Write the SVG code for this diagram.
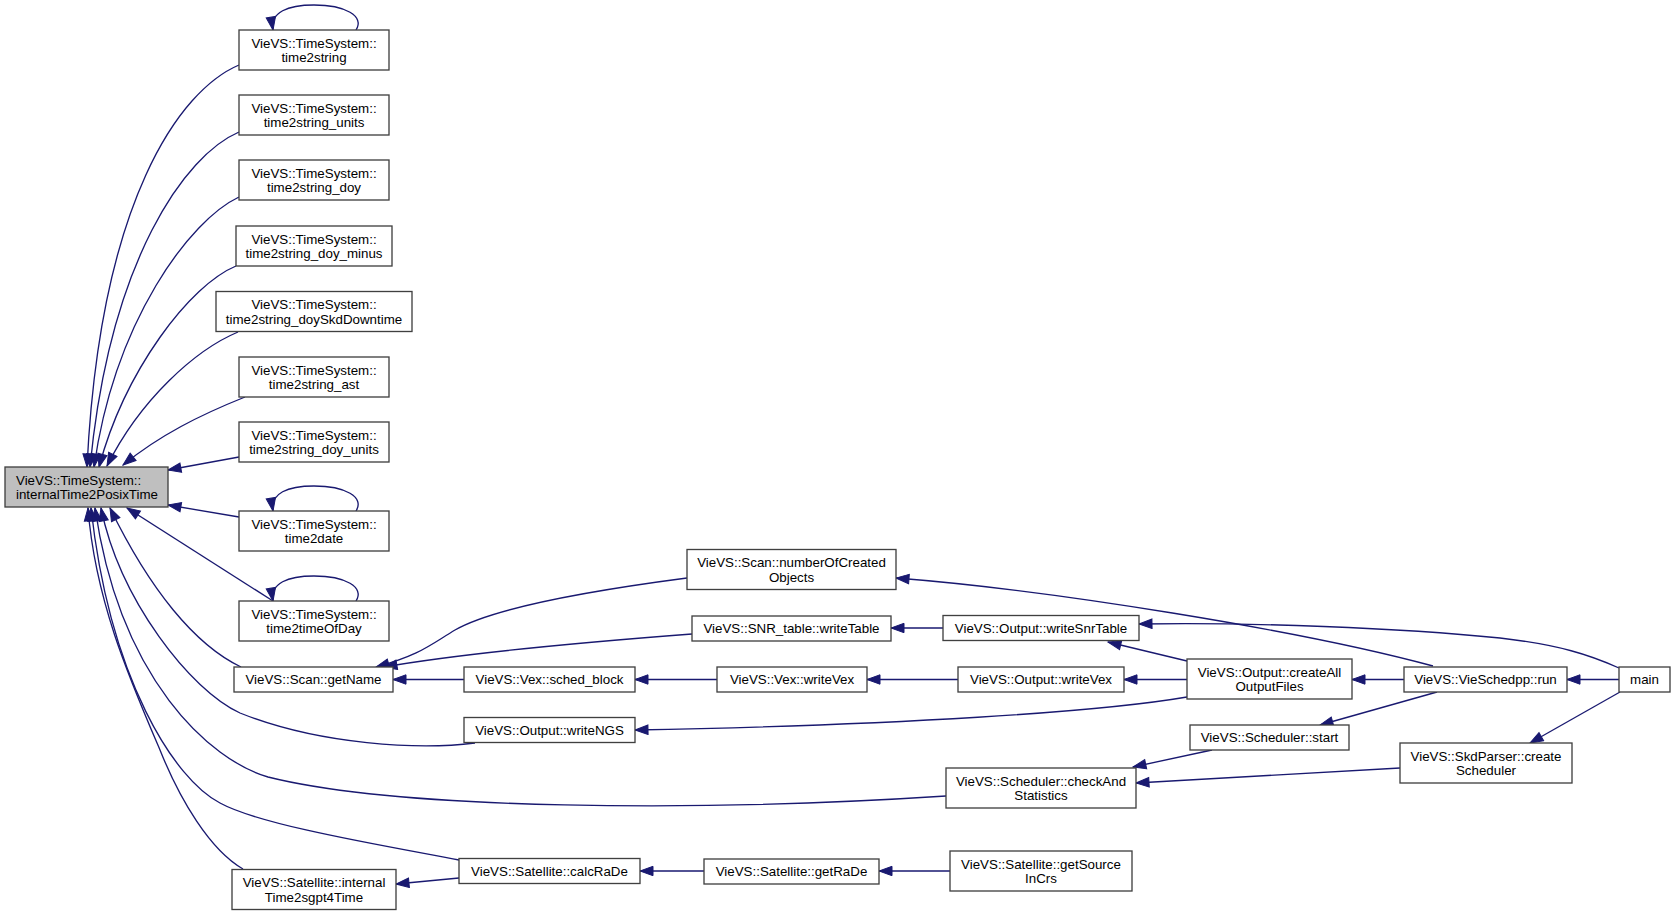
<svg xmlns="http://www.w3.org/2000/svg" width="1676" height="916" viewBox="0 0 1676 916">
<style>
.n rect{fill:#ffffff;stroke:#404040;stroke-width:1.33}
.n.root rect{fill:#bfbfbf}
.n text{font-family:"Liberation Sans",Arial,Helvetica,sans-serif;font-size:13.33px;fill:#000000;text-anchor:middle}
.n.root text{text-anchor:start}
#edges path{fill:none;stroke:#191970;stroke-width:1.33;marker-end:url(#arr)}
</style>
<defs>
<marker id="arr" markerUnits="userSpaceOnUse" markerWidth="16" markerHeight="12" refX="13" refY="4.7" orient="auto" viewBox="-1 -1 16 12">
<path d="M0,0 L13,4.7 L0,9.4 Z" fill="#191970" stroke="#191970" stroke-width="1"/>
</marker>
</defs>
<rect width="1676" height="916" fill="#ffffff"/>
<g id="edges">
<path d="M356,30 C365,16 345,5 314,5 C288,5 270,12 273,30"/>
<path d="M356,511 C365,497 345,486 314,486 C288,486 270,493 273,511"/>
<path d="M356,601 C365,587 345,576 314,576 C288,576 270,583 273,601"/>
<path d="M239,65 C180,90 100,200 87,467"/>
<path d="M239,132 C185,155 110,260 90,467"/>
<path d="M239,197 C190,220 115,320 94,467"/>
<path d="M236,266 C190,285 125,370 99,467"/>
<path d="M238,332 C195,350 140,400 107,466"/>
<path d="M245,397 C200,415 160,435 123,465"/>
<path d="M239,457 L168,470"/>
<path d="M239,517 L168,505"/>
<path d="M273,601 L127,508"/>
<path d="M241,667 C195,645 150,590 110,508"/>
<path d="M475,743 C420,750 320,745 240,713 C190,690 120,600 101,508"/>
<path d="M946,796 C700,812 400,810 268,777 C210,760 120,680 95,508"/>
<path d="M459,860 C380,845 260,825 220,803 C175,780 110,680 91,508"/>
<path d="M243,869 C210,850 180,800 160,750 C130,680 95,600 88,508"/>
<path d="M687,578 C580,592 490,610 455,630 C430,645 420,655 376,667"/>
<path d="M692,634 C600,641 470,652 384,667"/>
<path d="M464,679.5 L393,679.5"/>
<path d="M717,679.5 L635,679.5"/>
<path d="M958,679.5 L867,679.5"/>
<path d="M1187,679.5 L1124,679.5"/>
<path d="M1404,679.5 L1352,679.5"/>
<path d="M1619,679.5 L1567,679.5"/>
<path d="M943,628 L891,628"/>
<path d="M1187,661 L1108,642"/>
<path d="M1433,666 C1300,630 1050,590 896,578"/>
<path d="M1619,668 C1590,655 1560,645 1500,638 C1400,628 1250,622 1139,624"/>
<path d="M1187,697 C1100,712 900,725 635,730"/>
<path d="M1437,692 L1320,725"/>
<path d="M1212,750 L1133,767"/>
<path d="M1400,768 L1136,783"/>
<path d="M1620,692 L1530,743"/>
<path d="M950,871 L879,871"/>
<path d="M704,871 L640,871"/>
<path d="M459,878 L396,884"/>
</g>
<g id="internalTime2PosixTime" class="n root"><rect x="5" y="467" width="163" height="40"/><text x="16" y="484.5">VieVS::TimeSystem::</text><text x="16" y="499">internalTime2PosixTime</text></g>
<g id="time2string" class="n"><rect x="239" y="30" width="150" height="40"/><text x="314" y="47.5">VieVS::TimeSystem::</text><text x="314" y="62">time2string</text></g>
<g id="time2string_units" class="n"><rect x="239" y="95" width="150" height="40"/><text x="314" y="112.5">VieVS::TimeSystem::</text><text x="314" y="127">time2string_units</text></g>
<g id="time2string_doy" class="n"><rect x="239" y="160" width="150" height="40"/><text x="314" y="177.5">VieVS::TimeSystem::</text><text x="314" y="192">time2string_doy</text></g>
<g id="time2string_doy_minus" class="n"><rect x="236" y="226" width="156" height="40"/><text x="314" y="243.5">VieVS::TimeSystem::</text><text x="314" y="258">time2string_doy_minus</text></g>
<g id="time2string_doySkdDowntime" class="n"><rect x="216" y="291.5" width="196" height="40"/><text x="314" y="309">VieVS::TimeSystem::</text><text x="314" y="323.5">time2string_doySkdDowntime</text></g>
<g id="time2string_ast" class="n"><rect x="239" y="357" width="150" height="40"/><text x="314" y="374.5">VieVS::TimeSystem::</text><text x="314" y="389">time2string_ast</text></g>
<g id="time2string_doy_units" class="n"><rect x="239" y="422" width="150" height="40"/><text x="314" y="439.5">VieVS::TimeSystem::</text><text x="314" y="454">time2string_doy_units</text></g>
<g id="time2date" class="n"><rect x="239" y="511" width="150" height="40"/><text x="314" y="528.5">VieVS::TimeSystem::</text><text x="314" y="543">time2date</text></g>
<g id="time2timeOfDay" class="n"><rect x="239" y="601" width="150" height="40"/><text x="314" y="618.5">VieVS::TimeSystem::</text><text x="314" y="633">time2timeOfDay</text></g>
<g id="Scan_getName" class="n"><rect x="234" y="667" width="159" height="25"/><text x="313.5" y="684">VieVS::Scan::getName</text></g>
<g id="Scan_numberOfCreatedObjects" class="n"><rect x="687" y="549.5" width="209" height="40"/><text x="791.5" y="567">VieVS::Scan::numberOfCreated</text><text x="791.5" y="581.5">Objects</text></g>
<g id="SNR_table_writeTable" class="n"><rect x="692" y="616" width="199" height="25"/><text x="791.5" y="633">VieVS::SNR_table::writeTable</text></g>
<g id="Vex_sched_block" class="n"><rect x="464" y="667" width="171" height="25"/><text x="549.5" y="684">VieVS::Vex::sched_block</text></g>
<g id="Output_writeNGS" class="n"><rect x="464" y="717.5" width="171" height="25"/><text x="549.5" y="734.5">VieVS::Output::writeNGS</text></g>
<g id="Vex_writeVex" class="n"><rect x="717" y="667" width="150" height="25"/><text x="792" y="684">VieVS::Vex::writeVex</text></g>
<g id="Output_writeSnrTable" class="n"><rect x="943" y="615.5" width="196" height="25"/><text x="1041" y="632.5">VieVS::Output::writeSnrTable</text></g>
<g id="Output_writeVex" class="n"><rect x="958" y="667" width="166" height="25"/><text x="1041" y="684">VieVS::Output::writeVex</text></g>
<g id="Output_createAllOutputFiles" class="n"><rect x="1187" y="659" width="165" height="40"/><text x="1269.5" y="676.5">VieVS::Output::createAll</text><text x="1269.5" y="691">OutputFiles</text></g>
<g id="Scheduler_start" class="n"><rect x="1190" y="725" width="159" height="25"/><text x="1269.5" y="742">VieVS::Scheduler::start</text></g>
<g id="Scheduler_checkAndStatistics" class="n"><rect x="946" y="768" width="190" height="40"/><text x="1041" y="785.5">VieVS::Scheduler::checkAnd</text><text x="1041" y="800">Statistics</text></g>
<g id="VieSchedpp_run" class="n"><rect x="1404" y="667" width="163" height="25"/><text x="1485.5" y="684">VieVS::VieSchedpp::run</text></g>
<g id="main" class="n"><rect x="1619" y="667" width="51" height="25"/><text x="1644.5" y="684">main</text></g>
<g id="SkdParser_createScheduler" class="n"><rect x="1400" y="743" width="172" height="40"/><text x="1486" y="760.5">VieVS::SkdParser::create</text><text x="1486" y="775">Scheduler</text></g>
<g id="Satellite_internalTime2sgpt4Time" class="n"><rect x="232" y="869.5" width="164" height="40"/><text x="314" y="887">VieVS::Satellite::internal</text><text x="314" y="901.5">Time2sgpt4Time</text></g>
<g id="Satellite_calcRaDe" class="n"><rect x="459" y="858.5" width="181" height="25"/><text x="549.5" y="875.5">VieVS::Satellite::calcRaDe</text></g>
<g id="Satellite_getRaDe" class="n"><rect x="704" y="859" width="175" height="25"/><text x="791.5" y="876">VieVS::Satellite::getRaDe</text></g>
<g id="Satellite_getSourceInCrs" class="n"><rect x="950" y="851" width="182" height="40"/><text x="1041" y="868.5">VieVS::Satellite::getSource</text><text x="1041" y="883">InCrs</text></g>
</svg>
